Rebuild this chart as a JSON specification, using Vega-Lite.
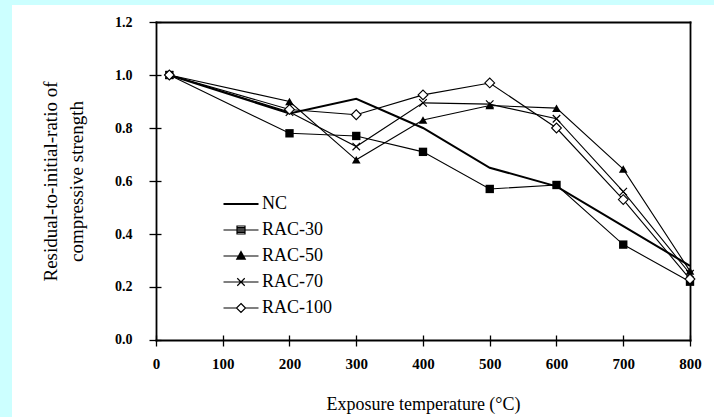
{
  "$schema": "https://vega.github.io/schema/vega-lite/v6.json",
  "width": 702,
  "height": 412,
  "padding": {"left": 12, "top": 5, "right": 0, "bottom": 0},
  "autosize": {"type": "none"},
  "background": "#ccffff",
  "config": {
    "view": {"fill": "white", "stroke": null},
    "font": "Liberation Serif"
  },
  "datasets": {
    "strength": [
      {"series": "NC", "t": 20, "r": 1.0},
      {"series": "NC", "t": 200, "r": 0.855},
      {"series": "NC", "t": 300, "r": 0.91},
      {"series": "NC", "t": 400, "r": 0.80},
      {"series": "NC", "t": 500, "r": 0.65},
      {"series": "NC", "t": 600, "r": 0.58},
      {"series": "NC", "t": 700, "r": 0.43},
      {"series": "NC", "t": 800, "r": 0.28},
      {"series": "RAC-30", "t": 20, "r": 1.0},
      {"series": "RAC-30", "t": 200, "r": 0.78},
      {"series": "RAC-30", "t": 300, "r": 0.77},
      {"series": "RAC-30", "t": 400, "r": 0.71},
      {"series": "RAC-30", "t": 500, "r": 0.57},
      {"series": "RAC-30", "t": 600, "r": 0.585},
      {"series": "RAC-30", "t": 700, "r": 0.36},
      {"series": "RAC-30", "t": 800, "r": 0.22},
      {"series": "RAC-50", "t": 20, "r": 1.0},
      {"series": "RAC-50", "t": 200, "r": 0.90},
      {"series": "RAC-50", "t": 300, "r": 0.68},
      {"series": "RAC-50", "t": 400, "r": 0.83},
      {"series": "RAC-50", "t": 500, "r": 0.885},
      {"series": "RAC-50", "t": 600, "r": 0.875},
      {"series": "RAC-50", "t": 700, "r": 0.645},
      {"series": "RAC-50", "t": 800, "r": 0.26},
      {"series": "RAC-70", "t": 20, "r": 1.0},
      {"series": "RAC-70", "t": 200, "r": 0.86},
      {"series": "RAC-70", "t": 300, "r": 0.73},
      {"series": "RAC-70", "t": 400, "r": 0.895},
      {"series": "RAC-70", "t": 500, "r": 0.89},
      {"series": "RAC-70", "t": 600, "r": 0.835},
      {"series": "RAC-70", "t": 700, "r": 0.56},
      {"series": "RAC-70", "t": 800, "r": 0.25},
      {"series": "RAC-100", "t": 20, "r": 1.0},
      {"series": "RAC-100", "t": 200, "r": 0.87},
      {"series": "RAC-100", "t": 300, "r": 0.85},
      {"series": "RAC-100", "t": 400, "r": 0.925},
      {"series": "RAC-100", "t": 500, "r": 0.97},
      {"series": "RAC-100", "t": 600, "r": 0.80},
      {"series": "RAC-100", "t": 700, "r": 0.53},
      {"series": "RAC-100", "t": 800, "r": 0.23}
    ]
  },
  "resolve": {"axis": {"x": "independent", "y": "independent"}},
  "layer": [
    {
      "data": {"name": "strength"},
      "mark": {"type": "line", "color": "black"},
      "encoding": {
        "x": {
          "field": "t", "type": "quantitative",
          "scale": {"domain": [-215.73, 835.96], "nice": false, "zero": false},
          "axis": {
            "orient": "bottom", "offset": -77, "values": [0, 100, 200, 300, 400, 500, 600, 700, 800],
            "domain": false, "grid": false, "tickSize": 6, "tickColor": "black", "tickWidth": 1.3,
            "labelFont": "Liberation Serif", "labelFontSize": 15, "labelFontWeight": "bold", "labelColor": "black",
            "labelPadding": 10, "labelFlush": false, "labelOverlap": false,
            "title": "Exposure temperature (°C)", "titleFont": "Liberation Serif", "titleFontSize": 18,
            "titleFontWeight": "normal", "titleColor": "black", "titlePadding": 24, "titleX": 411
          }
        },
        "y": {
          "field": "r", "type": "quantitative",
          "scale": {"domain": [-0.2906, 1.2642], "nice": false, "zero": false},
          "axis": {
            "orient": "left", "offset": -144, "values": [0, 0.2, 0.4, 0.6, 0.8, 1.0, 1.2], "format": ".1f",
            "domain": false, "grid": false, "tickSize": 7, "tickColor": "black", "tickWidth": 1.3,
            "labelFont": "Liberation Serif", "labelFontSize": 14, "labelFontWeight": "bold", "labelColor": "black",
            "labelPadding": 17, "labelFlush": false, "labelOverlap": false,
            "title": ["Residual-to-initial-ratio of", "compressive strength"], "titleFont": "Liberation Serif",
            "titleFontSize": 19, "titleFontWeight": "normal", "titleColor": "black", "titlePadding": 28, "titleLineHeight": 26,
            "titleY": 176
          }
        },
        "detail": {"field": "series"},
        "strokeWidth": {"condition": {"test": "datum.series == 'NC'", "value": 2}, "value": 1.1}
      }
    },
    {
      "data": {"name": "strength"},
      "transform": [{"filter": "datum.series == 'RAC-30'"}],
      "mark": {"type": "point", "shape": "square", "size": 70, "filled": true, "color": "black", "opacity": 1},
      "encoding": {
        "x": {
          "field": "t", "type": "quantitative",
          "axis": {"orient": "top", "offset": -335, "values": [0, 100, 200, 300, 400, 500, 600, 700, 800],
                   "domain": false, "grid": false, "labels": false, "tickSize": 5, "tickColor": "black", "tickWidth": 1.3, "title": null}
        },
        "y": {
          "field": "r", "type": "quantitative",
          "axis": {"orient": "right", "offset": -558, "values": [0, 0.2, 0.4, 0.6, 0.8, 1.0, 1.2],
                   "domain": false, "grid": false, "labels": false, "tickSize": 5, "tickColor": "black", "tickWidth": 1.3, "title": null}
        }
      }
    },
    {
      "data": {"name": "strength"},
      "transform": [{"filter": "datum.series == 'RAC-50'"}],
      "mark": {"type": "point", "shape": "triangle-up", "size": 75, "filled": true, "color": "black", "opacity": 1},
      "encoding": {
        "x": {
          "field": "t", "type": "quantitative",
          "axis": {"orient": "top", "offset": -335, "values": [0, 800],
                   "domain": false, "grid": false, "labels": false, "tickSize": 318, "tickColor": "black", "tickWidth": 1.8, "tickCap": "square", "title": null}
        },
        "y": {
          "field": "r", "type": "quantitative",
          "axis": {"orient": "right", "offset": -558, "values": [0, 1.2],
                   "domain": false, "grid": false, "labels": false, "tickSize": 534, "tickColor": "black", "tickWidth": 1.8, "tickCap": "square", "title": null}
        }
      }
    },
    {
      "data": {"name": "strength"},
      "transform": [{"filter": "datum.series == 'RAC-70'"}],
      "mark": {"type": "point", "shape": "M-1,-1L1,1M-1,1L1,-1", "size": 56, "filled": false, "color": "black", "strokeWidth": 1.2, "opacity": 1},
      "encoding": {
        "x": {"field": "t", "type": "quantitative", "axis": null},
        "y": {"field": "r", "type": "quantitative", "axis": null}
      }
    },
    {
      "data": {"name": "strength"},
      "transform": [{"filter": "datum.series == 'RAC-100'"}],
      "mark": {"type": "point", "shape": "diamond", "size": 95, "fill": "white", "stroke": "black", "strokeWidth": 1.1, "opacity": 1},
      "encoding": {
        "x": {"field": "t", "type": "quantitative", "axis": null},
        "y": {"field": "r", "type": "quantitative", "axis": null}
      }
    },
    {
      "data": {"name": "strength"},
      "mark": {"type": "point", "opacity": 0, "filled": false, "color": "black"},
      "encoding": {
        "x": {"field": "t", "type": "quantitative", "axis": null},
        "y": {"field": "r", "type": "quantitative", "axis": null},
        "shape": {
          "field": "series",
          "scale": {
            "domain": ["NC", "RAC-30", "RAC-50", "RAC-70", "RAC-100"],
            "range": [
              "M-3.5,-0.1H3.5M-3.5,0.1H3.5",
              "M-3.5,0H3.5M-0.8,-0.8H0.8V0.8H-0.8ZM-0.8,-0.5H0.8M-0.8,-0.25H0.8M-0.8,0.25H0.8M-0.8,0.5H0.8",
              "M-3.5,0H3.5M0,-0.9L0.85,0.65H-0.85ZM-0.22,-0.5H0.22M-0.33,-0.3H0.33M-0.44,-0.1H0.44M-0.55,0.1H0.55M-0.66,0.3H0.66M-0.77,0.5H0.77",
              "M-3.5,0H3.5M-0.75,-0.75L0.75,0.75M-0.75,0.75L0.75,-0.75",
              "M-3.5,0H-0.9M0.9,0H3.5M0,-0.9L0.9,0L0,0.9L-0.9,0Z"
            ]
          },
          "legend": {
            "title": null, "orient": "none", "legendX": 220, "legendY": 190,
            "symbolSize": 100, "symbolStrokeWidth": 1.2, "symbolStrokeColor": "black",
            "labelFont": "Liberation Serif", "labelFontSize": 18, "labelColor": "black", "labelOffset": 12,
            "rowPadding": 8
          }
        }
      }
    }
  ]
}
